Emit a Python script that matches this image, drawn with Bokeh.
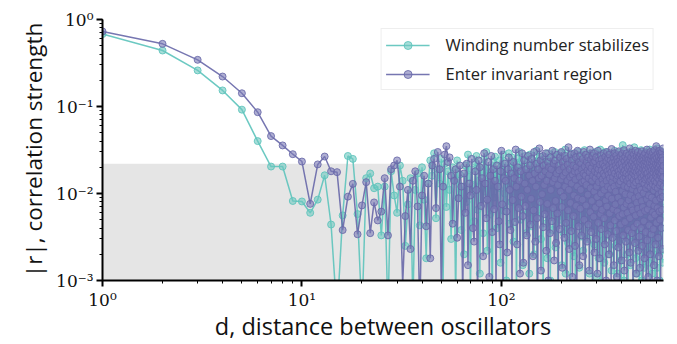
from bokeh.plotting import figure
from bokeh.models import BoxAnnotation, Range1d, Legend, LegendItem, ColumnDataSource
from bokeh.embed import file_html
from bokeh.resources import INLINE

# |r| for "Winding number stabilizes" at d = 1, 2, 3, ...
winding = [
    .68, .44, .26, .153, .092, .040, .0204, .0204, .0082, .0081,
    .0060, .0085, .0162, .0044, .0004, .0056, .027, .025, .0058, .0004,
    .015, .017, .0115, .012,
    .0033, .0120, .0004, .0180, .0095, .0060, .0210, .0140, .0025, .0075,
    .0150, .0005, .0110, .0170, .0043, .0200, .0085, .0018, .0130, .0240,
    .0160, .0290, .0052, .0190, .0130, .0250, .0009, .0220, .0070, .0180,
    .0110, .0030, .0200, .0145, .0006, .0240, .0090, .0165, .0038, .0120,
    .0020, .0210, .0080, .0280, .0155, .0007, .0190, .0125, .0048, .0230,
    .0270, .0065, .0140, .0012, .0210, .0175, .0035, .0250, .0105, .0300,
    .0022, .0160, .0195, .0058, .0125, .0004, .0230, .0090, .0265, .0145,
    .0040, .0185, .0115, .0240, .0016, .0205, .0150, .0280, .0063, .0100,
    .0230, .0010, .0170, .0125, .0290, .0045, .0195, .0080, .0260, .0140,
    .0028, .0215, .0105, .0165, .0006, .0250, .0135, .0070, .0300, .0185,
    .0050, .0120, .0240, .0015, .0175, .0205, .0088, .0270, .0035, .0150,
    .0225, .0060, .0190, .0012, .0280, .0130, .0160, .0042, .0245, .0098,
    .0180, .0020, .0215, .0140, .0075, .0310, .0008, .0165, .0235, .0115,
    .0055, .0200, .0265, .0030, .0150, .0190, .0093, .0004, .0225, .0170,
    .0260, .0110, .0045, .0205, .0140, .0018, .0290, .0068, .0185, .0235,
    .0125, .0010, .0175, .0250, .0083, .0155, .0038, .0220, .0195, .0060,
    .0300, .0135, .0024, .0210, .0165, .0102, .0270, .0006, .0185, .0145,
    .0072, .0240, .0050, .0175, .0290, .0115, .0015, .0205, .0130, .0255,
    .0035, .0190, .0160, .0080, .0320, .0012, .0225, .0142, .0058, .0200,
    .0170, .0027, .0260, .0110, .0185, .0065, .0240, .0009, .0150, .0210,
    .0090, .0285, .0040, .0175, .0130, .0230, .0019, .0195, .0268, .0075,
    .0005, .0160, .0215, .0120, .0045, .0250, .0182, .0062, .0300, .0138,
    .0190, .0014, .0235, .0100, .0168, .0280, .0032, .0145, .0205, .0070,
    .0260, .0120, .0022, .0190, .0155, .0085, .0315, .0048, .0175, .0008,
    .0210, .0135, .0248, .0060, .0180, .0030, .0228, .0105, .0160, .0275,
    .0040, .0195, .0012, .0240, .0150, .0088, .0290, .0172, .0054, .0218,
    .0128, .0006, .0265, .0190, .0074, .0145, .0235, .0026, .0205, .0160,
    .0095, .0300, .0038, .0178, .0222, .0011, .0150, .0258, .0066, .0190,
    .0140, .0230, .0018, .0275, .0112, .0165, .0048, .0210, .0320, .0080,
    .0175, .0004, .0240, .0132, .0200, .0058, .0285, .0155, .0029, .0215,
    .0108, .0250, .0185, .0016, .0162, .0230, .0070, .0300, .0125, .0044,
    .0198, .0270, .0009, .0145, .0212, .0086, .0178, .0033, .0255, .0120,
    .0062, .0225, .0160, .0290, .0020, .0188, .0138, .0245, .0052, .0170,
    .0215, .0098, .0013, .0265, .0150, .0200, .0039, .0235, .0118, .0282,
    .0072, .0180, .0226, .0007, .0158, .0310, .0092, .0195, .0140, .0025,
    .0250, .0165, .0060, .0218, .0128, .0275, .0045, .0185, .0012, .0232,
    .0150, .0205, .0082, .0295, .0034, .0172, .0242, .0112, .0190, .0017,
    .0260, .0135, .0068, .0220, .0175, .0004, .0285, .0148, .0056, .0210,
    .0182, .0360, .0030, .0160, .0105, .0238, .0195, .0010, .0270, .0125,
    .0076, .0205, .0168, .0300, .0042, .0140, .0225, .0088, .0180, .0255,
    .0020, .0190, .0132, .0268, .0062, .0215, .0152, .0008, .0245, .0175,
    .0110, .0290, .0036, .0198, .0235, .0140, .0070, .0262, .0015, .0185,
    .0228, .0095, .0165, .0305, .0050, .0210, .0122, .0248, .0028, .0170,
    .0140, .0275, .0064, .0190, .0006, .0230, .0160, .0215, .0085, .0340,
    .0118, .0040, .0200, .0255, .0150, .0018, .0185, .0240, .0100, .0165,
    .0285, .0055, .0220, .0130, .0012, .0195, .0270, .0078, .0178, .0232,
    .0035, .0155, .0210, .0120, .0295, .0060, .0188, .0005, .0245, .0142,
    .0202, .0090, .0268, .0170, .0024, .0230, .0138, .0315, .0066, .0185,
    .0150, .0010, .0222, .0260, .0105, .0175, .0046, .0290, .0198, .0128,
    .0032, .0240, .0162, .0080, .0212, .0014, .0275, .0145, .0188, .0058,
    .0250, .0118, .0200, .0037, .0172, .0300, .0092, .0228, .0007, .0160,
    .0195, .0265, .0070, .0135, .0242, .0021, .0210, .0155, .0285, .0048,
    .0180, .0110, .0235, .0016, .0258, .0165, .0082, .0205, .0140, .0320,
    .0060, .0190, .0008, .0248, .0125, .0218, .0042, .0175, .0270, .0098,
    .0150, .0230, .0026, .0198, .0290, .0065, .0160, .0012, .0240, .0185,
    .0115, .0265, .0052, .0210, .0142, .0020, .0305, .0178, .0088, .0225,
    .0168, .0038, .0255, .0132, .0195, .0005, .0280, .0150, .0072, .0212,
    .0245, .0108, .0182, .0030, .0268, .0158, .0222, .0062, .0190, .0330,
    .0014, .0205, .0138, .0250, .0085, .0175, .0295, .0045, .0215, .0120,
    .0162, .0028, .0238, .0188, .0070, .0278, .0148, .0010, .0200, .0255,
    .0095, .0170, .0310, .0055, .0228, .0135, .0192, .0022, .0262, .0112,
    .0180, .0245, .0040, .0208, .0150, .0290, .0068, .0175, .0235, .0016,
    .0198, .0128, .0270, .0082, .0222, .0160,
]

# |r| for "Enter invariant region" at d = 1, 2, 3, ...
invariant = [
    .73, .525, .344, .221, .142, .086, .0457, .0357, .0283, .0233,
    .0076, .0216, .0266, .0180, .0176, .0038, .0092, .0129, .0034, .0073,
    .0135, .0035, .0079, .0049,
    .0062, .0150, .0033, .0190, .0210, .0240, .0120, .0009, .0055, .0110,
    .0023, .0140, .0180, .0071, .0004, .0095, .0160, .0042, .0130, .0018,
    .0210, .0250, .0068, .0300, .0190, .0007, .0120, .0280, .0350, .0230,
    .0260, .0160, .0045, .0140, .0190, .0031, .0088, .0210, .0120, .0006,
    .0170, .0060, .0220, .0015, .0130, .0095, .0250, .0040, .0028, .0180,
    .0110, .0005, .0240, .0200, .0072, .0150, .0019, .0290, .0130, .0052,
    .0085, .0230, .0011, .0160, .0270, .0036, .0190, .0066, .0140, .0008,
    .0210, .0120, .0048, .0026, .0180, .0310, .0075, .0003, .0150, .0220,
    .0140, .0062, .0021, .0190, .0260, .0110, .0038, .0170, .0009, .0084,
    .0230, .0150, .0047, .0320, .0120, .0026, .0200, .0068, .0140, .0012,
    .0180, .0092, .0290, .0055, .0016, .0240, .0130, .0072, .0190, .0033,
    .0110, .0270, .0006, .0160, .0210, .0044, .0087, .0250, .0140, .0019,
    .0064, .0300, .0170, .0028, .0120, .0220, .0052, .0004, .0190, .0150,
    .0330, .0080, .0240, .0013, .0160, .0098, .0270, .0041, .0210, .0125,
    .0058, .0180, .0290, .0022, .0140, .0076, .0230, .0010, .0200, .0165,
    .0035, .0260, .0110, .0190, .0048, .0310, .0135, .0068, .0220, .0017,
    .0150, .0240, .0082, .0027, .0170, .0280, .0059, .0125, .0008, .0210,
    .0185, .0039, .0260, .0105, .0145, .0300, .0070, .0014, .0230, .0160,
    .0092, .0200, .0031, .0270, .0120, .0175, .0046, .0250, .0006, .0140,
    .0215, .0064, .0340, .0110, .0023, .0190, .0155, .0078, .0280, .0037,
    .0130, .0240, .0011, .0165, .0210, .0055, .0095, .0290, .0180, .0025,
    .0145, .0260, .0072, .0200, .0005, .0120, .0310, .0088, .0175, .0042,
    .0230, .0015, .0155, .0270, .0067, .0110, .0220, .0033, .0190, .0135,
    .0085, .0250, .0019, .0170, .0300, .0050, .0140, .0205, .0009, .0160,
    .0280, .0073, .0125, .0230, .0028, .0185, .0097, .0260, .0044, .0150,
    .0210, .0013, .0175, .0320, .0061, .0115, .0245, .0036, .0195, .0082,
    .0140, .0270, .0007, .0160, .0225, .0054, .0290, .0105, .0021, .0180,
    .0235, .0069, .0150, .0260, .0030, .0120, .0200, .0091, .0012, .0170,
    .0310, .0046, .0190, .0135, .0240, .0077, .0018, .0215, .0160, .0058,
    .0275, .0100, .0039, .0185, .0250, .0065, .0145, .0004, .0220, .0128,
    .0170, .0290, .0052, .0110, .0205, .0026, .0160, .0265, .0083, .0195,
    .0010, .0235, .0140, .0071, .0300, .0180, .0034, .0120, .0255, .0094,
    .0165, .0020, .0210, .0280, .0059, .0150, .0190, .0043, .0240, .0113,
    .0008, .0175, .0325, .0087, .0135, .0225, .0031, .0200, .0155, .0066,
    .0260, .0015, .0185, .0120, .0290, .0049, .0170, .0230, .0075, .0105,
    .0210, .0037, .0275, .0145, .0011, .0195, .0250, .0062, .0160, .0230,
    .0090, .0024, .0180, .0305, .0128, .0055, .0215, .0165, .0006, .0245,
    .0138, .0270, .0044, .0190, .0080, .0225, .0017, .0160, .0285, .0107,
    .0058, .0200, .0250, .0033, .0148, .0175, .0069, .0315, .0122, .0013,
    .0235, .0185, .0047, .0265, .0098, .0155, .0028, .0210, .0170, .0076,
    .0290, .0009, .0140, .0245, .0060, .0195, .0118, .0038, .0225, .0162,
    .0084, .0275, .0150, .0021, .0205, .0330, .0052, .0130, .0240, .0096,
    .0016, .0180, .0260, .0071, .0155, .0220, .0035, .0190, .0295, .0112,
    .0064, .0235, .0005, .0170, .0205, .0143, .0280, .0041, .0125, .0250,
    .0185, .0088, .0027, .0215, .0160, .0310, .0056, .0198, .0134, .0012,
    .0240, .0175, .0078, .0270, .0105, .0045, .0225, .0158, .0300, .0067,
    .0190, .0022, .0255, .0140, .0093, .0210, .0180, .0032, .0265, .0120,
    .0014, .0230, .0168, .0059, .0285, .0200, .0110, .0040, .0245, .0152,
    .0082, .0305, .0175, .0025, .0215, .0135, .0260, .0070, .0008, .0190,
    .0240, .0101, .0162, .0048, .0275, .0222, .0130, .0018, .0205, .0178,
    .0063, .0290, .0145, .0235, .0036, .0188, .0115, .0255, .0005, .0168,
    .0210, .0086, .0320, .0150, .0029, .0228, .0172, .0066, .0265, .0124,
    .0011, .0195, .0245, .0095, .0155, .0280, .0043, .0212, .0138, .0076,
    .0230, .0180, .0020, .0300, .0118, .0160, .0250, .0053, .0200, .0142,
    .0034, .0270, .0185, .0090, .0222, .0007, .0165, .0240, .0128, .0061,
    .0295, .0150, .0205, .0039, .0175, .0260, .0108, .0015, .0230, .0190,
    .0072, .0315, .0140, .0248, .0057, .0198, .0120, .0270, .0026, .0162,
    .0218, .0083, .0185, .0350, .0046, .0135, .0255, .0170, .0010, .0208,
    .0152, .0285, .0068, .0225, .0115, .0190, .0031, .0240, .0178, .0098,
    .0265, .0019, .0200, .0145, .0310, .0062, .0172, .0235, .0125, .0050,
    .0213, .0290, .0088, .0160, .0006, .0250, .0188, .0132, .0275, .0040,
    .0170, .0228, .0104, .0300, .0065, .0195, .0148, .0260, .0023, .0182,
    .0240, .0092, .0330, .0155, .0208, .0120,
]

series_labels = ["Winding number stabilizes", "Enter invariant region"]
series_colors = ["#5cc3bb", "#6767a8"]
marker_fills = ["#6cc8c0", "#7a7ab6"]
noise_floor = 0.022

x_ticks = {1: "10⁰", 10: "10¹", 100: "10²"}
y_ticks = {1: "10⁰", 0.1: "10⁻¹", 0.01: "10⁻²", 0.001: "10⁻³"}

p = figure(width=677, height=344, x_axis_type="log", y_axis_type="log",
           x_range=Range1d(1, 650), y_range=Range1d(0.001, 1),
           output_backend="svg", toolbar_location=None,
           min_border_left=102, min_border_right=14, min_border_top=19, min_border_bottom=64)
p.outline_line_color = None
p.grid.visible = False
p.background_fill_color = "white"

p.add_layout(BoxAnnotation(top=noise_floor, fill_color="#e5e5e5", fill_alpha=1.0,
                           line_color=None, level="underlay"))

items = []
for vals, lab, col, mf in zip([winding, invariant], series_labels, series_colors, marker_fills):
    src = ColumnDataSource(dict(d=list(range(1, len(vals) + 1)), r=vals))
    ln = p.line("d", "r", source=src, line_color=col, line_width=1.5, line_alpha=0.9)
    sc = p.scatter("d", "r", source=src, size=7, fill_color=mf, fill_alpha=0.6,
                   line_color=col, line_alpha=0.85, line_width=1)
    items.append(LegendItem(label=lab, renderers=[ln, sc]))

legend = Legend(items=items, location="top_right", label_text_font="Open Sans",
                label_text_font_size="16.5px", label_text_color="#222222",
                border_line_color="#dddddd", border_line_width=1,
                background_fill_alpha=1.0, glyph_width=44, label_standoff=16,
                spacing=6, padding=4, margin=9, label_height=22)
p.add_layout(legend)

for ax, ov in [(p.xaxis, x_ticks), (p.yaxis, y_ticks)]:
    ax.major_label_overrides = ov
    ax.major_label_text_font = "DejaVu Serif"
    ax.major_label_text_font_size = "17px"
    ax.major_label_text_color = "#111111"
    ax.major_label_standoff = 3
    ax.axis_line_width = 2
    ax.axis_line_color = "black"
    ax.major_tick_line_width = 2
    ax.major_tick_out = 6
    ax.major_tick_in = 0
    ax.minor_tick_out = 3
    ax.minor_tick_in = 0
    ax.minor_tick_line_width = 1
    ax.axis_label_text_font = "Open Sans"
    ax.axis_label_text_font_style = "normal"
    ax.axis_label_text_color = "#111111"

p.xaxis.axis_label = "d, distance between oscillators"
p.yaxis.axis_label = "|r|, correlation strength"
p.xaxis.axis_label_text_font_size = "23.5px"
p.yaxis.axis_label_text_font_size = "22.5px"
p.xaxis.axis_label_standoff = -3
p.yaxis.axis_label_standoff = 4

open("out.html", "w").write(file_html(p, INLINE))
